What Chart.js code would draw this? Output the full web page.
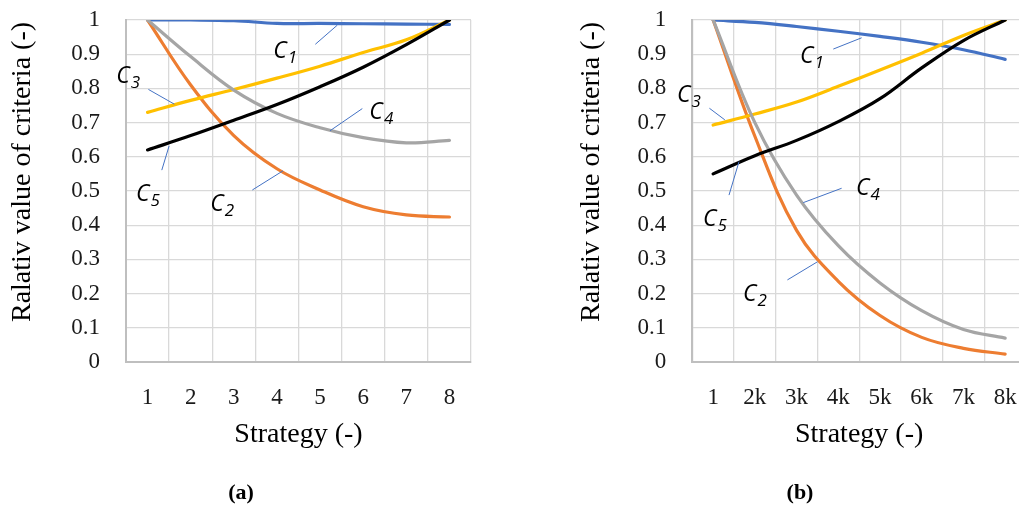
<!DOCTYPE html>
<html>
<head>
<meta charset="utf-8">
<script src="https://cdn.jsdelivr.net/npm/chart.js@4.4.1/dist/chart.umd.min.js"></script>
<style>
  html, body { margin: 0; padding: 0; background: #ffffff; overflow: hidden; width: 1019px; height: 507px; }
  canvas { position: absolute; top: 0; }
  #panelA { left: 0; }
  #panelB { left: 560px; }
</style>
</head>
<body>
<canvas id="panelA" width="500" height="507" style="width:500px;height:507px"></canvas>
<canvas id="panelB" width="480" height="507" style="width:480px;height:507px"></canvas>
<script>
// Strategy tick labels for each panel
const strategiesA = ['1', '2', '3', '4', '5', '6', '7', '8'];
const strategiesB = ['1', '2k', '3k', '4k', '5k', '6k', '7k', '8k'];

// Relative criteria values, panel (a)
const a_C1 = [1.000, 1.000, 0.998, 0.990, 0.990, 0.989, 0.988, 0.987];
const a_C2 = [1.000, 0.810, 0.662, 0.565, 0.503, 0.454, 0.430, 0.424];
const a_C3 = [0.730, 0.765, 0.797, 0.830, 0.865, 0.905, 0.942, 1.000];
const a_C4 = [1.000, 0.893, 0.795, 0.727, 0.685, 0.656, 0.641, 0.648];
const a_C5 = [0.620, 0.662, 0.707, 0.753, 0.805, 0.862, 0.928, 1.000];

// Relative criteria values, panel (b)
const b_C1 = [1.000, 0.993, 0.981, 0.967, 0.952, 0.935, 0.913, 0.885];
const b_C2 = [1.000, 0.660, 0.385, 0.236, 0.136, 0.072, 0.040, 0.023];
const b_C3 = [0.693, 0.725, 0.760, 0.806, 0.854, 0.903, 0.955, 1.000];
const b_C4 = [1.000, 0.700, 0.488, 0.340, 0.231, 0.150, 0.095, 0.070];
const b_C5 = [0.550, 0.603, 0.648, 0.703, 0.770, 0.860, 0.940, 1.000];

const seriesNames = ['C1', 'C2', 'C3', 'C4', 'C5'];
const seriesColors = ['#4472C4', '#ED7D31', '#FFC000', '#A5A5A5', '#000000'];

// Callouts: label centre and leader line, in data units (category index, value)
const calloutsA = [
  { sub: '1', at: [3.19, 0.906], from: [3.89, 0.929], to: [4.40, 0.985] },
  { sub: '2', at: [1.73, 0.459], from: [2.43, 0.503], to: [3.14, 0.559] },
  { sub: '3', at: [-0.45, 0.833], from: [0.02, 0.797], to: [0.62, 0.754] },
  { sub: '4', at: [5.42, 0.728], from: [4.98, 0.741], to: [4.23, 0.676] },
  { sub: '5', at: [0.01, 0.488], from: [0.33, 0.561], to: [0.50, 0.632] }
];
const calloutsB = [
  { sub: '1', at: [2.37, 0.892], from: [2.88, 0.915], to: [3.56, 0.948] },
  { sub: '2', at: [1.00, 0.196], from: [1.78, 0.240], to: [2.50, 0.293] },
  { sub: '3', at: [-0.58, 0.778], from: [-0.09, 0.742], to: [0.28, 0.708] },
  { sub: '4', at: [3.71, 0.506], from: [3.08, 0.508], to: [2.16, 0.466] },
  { sub: '5', at: [0.04, 0.415], from: [0.38, 0.488], to: [0.62, 0.586] }
];

const SERIF = '"Liberation Serif", "Times New Roman", serif';
const SANS = '"Open Sans", Lato, sans-serif';

// Draws the callout labels (C with subscript) and their leader lines
const calloutPlugin = {
  id: 'callouts',
  afterDatasetsDraw(chart, args, opts) {
    const { ctx, scales: { x, y } } = chart;
    ctx.save();
    ctx.strokeStyle = '#4472C4';
    ctx.lineWidth = 1;
    opts.items.forEach(c => {
      ctx.beginPath();
      ctx.moveTo(x.getPixelForValue(c.from[0]), y.getPixelForValue(c.from[1]));
      ctx.lineTo(x.getPixelForValue(c.to[0]), y.getPixelForValue(c.to[1]));
      ctx.stroke();
    });
    ctx.fillStyle = '#000000';
    ctx.textBaseline = 'alphabetic';
    ctx.textAlign = 'left';
    opts.items.forEach(c => {
      const bigFont = 'italic 23px ' + SANS;
      const subFont = 'italic 17px ' + SANS;
      ctx.font = bigFont;
      const wC = ctx.measureText('C').width;
      ctx.font = subFont;
      const wS = ctx.measureText(c.sub).width;
      const cx = x.getPixelForValue(c.at[0]);
      const cy = y.getPixelForValue(c.at[1]);
      const left = cx - (wC + 1 + wS) / 2;
      const base = cy + 5.75;
      ctx.font = bigFont;
      ctx.fillText('C', left, base);
      ctx.font = subFont;
      ctx.fillText(c.sub, left + wC + 1, base + 5);
    });
    ctx.restore();
  }
};

// Axis titles and panel caption
const titlePlugin = {
  id: 'panelTitles',
  afterDraw(chart, args, opts) {
    const { ctx, chartArea } = chart;
    ctx.save();
    ctx.fillStyle = '#000000';
    ctx.textAlign = 'center';
    ctx.textBaseline = 'middle';
    ctx.font = '28px ' + SERIF;
    ctx.fillText('Strategy (-)', (chartArea.left + chartArea.right) / 2, opts.xTitleY);
    ctx.save();
    ctx.translate(opts.yTitleX, opts.yTitleY);
    ctx.rotate(-Math.PI / 2);
    ctx.fillText('Ralativ value of criteria (-)', 0, 0);
    ctx.restore();
    ctx.font = 'bold 22px ' + SERIF;
    ctx.fillText(opts.caption, opts.captionX, opts.captionY);
    ctx.restore();
  }
};

function buildPanel(canvasId, labels, values, callouts, area, titles) {
  const datasets = values.map((v, i) => ({
    label: seriesNames[i],
    data: v,
    borderColor: seriesColors[i],
    backgroundColor: seriesColors[i],
    borderWidth: 3.2,
    pointRadius: 0,
    pointHoverRadius: 0,
    tension: 0.38,
    fill: false,
    borderCapStyle: 'round',
    borderJoinStyle: 'round',
    order: values.length - i
  }));
  return new Chart(document.getElementById(canvasId), {
    type: 'line',
    data: { labels, datasets },
    plugins: [calloutPlugin, titlePlugin],
    options: {
      responsive: false,
      animation: false,
      devicePixelRatio: 1,
      layout: { padding: { left: 0, top: area.top, right: area.right, bottom: 0 } },
      plugins: {
        legend: { display: false },
        tooltip: { enabled: false },
        callouts: { items: callouts },
        panelTitles: titles
      },
      scales: {
        x: {
          offset: true,
          grid: { offset: true, color: '#d9d9d9', lineWidth: 1.3, drawTicks: false },
          border: { color: '#bfbfbf', width: 2 },
          ticks: {
            color: '#1a1a1a',
            font: { family: SERIF, size: 23 },
            padding: 22,
            maxRotation: 0,
            autoSkip: false
          },
          afterFit(scale) {
            scale.height = area.xHeight;
            scale.paddingLeft = 0;
            scale.paddingRight = 0;
          }
        },
        y: {
          min: 0,
          max: 1,
          grid: { color: '#d9d9d9', lineWidth: 1.3, drawTicks: false },
          border: { color: '#bfbfbf', width: 2 },
          ticks: {
            stepSize: 0.1,
            color: '#1a1a1a',
            font: { family: SERIF, size: 23 },
            padding: 26,
            callback: v => String(+v.toFixed(1))
          },
          afterFit(scale) {
            scale.width = area.yWidth;
            scale.paddingTop = 0;
            scale.paddingBottom = 0;
          }
        }
      }
    }
  });
}

buildPanel('panelA', strategiesA, [a_C1, a_C2, a_C3, a_C4, a_C5], calloutsA,
  { top: 20, right: 29, xHeight: 145, yWidth: 126 },
  { xTitleY: 435, yTitleX: 23, yTitleY: 172, caption: '(a)', captionX: 241, captionY: 493 });

buildPanel('panelB', strategiesB, [b_C1, b_C2, b_C3, b_C4, b_C5], calloutsB,
  { top: 20, right: 14, xHeight: 145, yWidth: 132.3 },
  { xTitleY: 435, yTitleX: 32, yTitleY: 172, caption: '(b)', captionX: 240, captionY: 493 });
</script>
</body>
</html>
